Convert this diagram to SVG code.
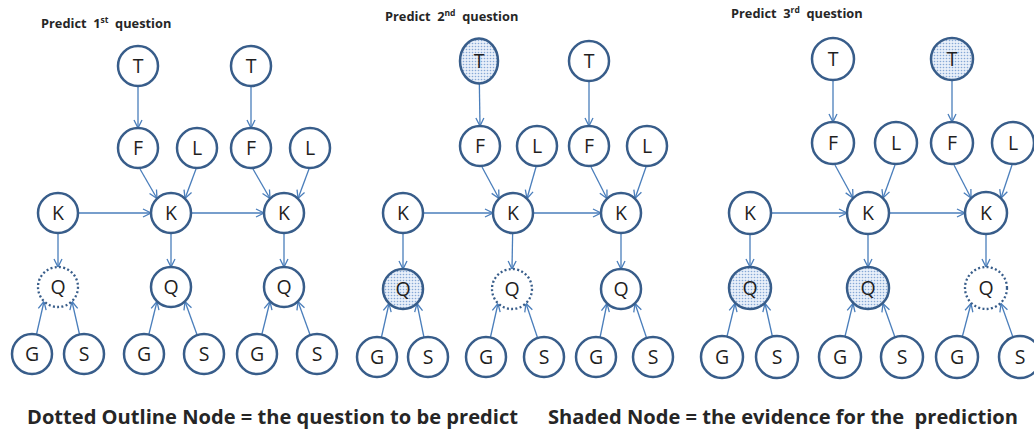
<svg xmlns="http://www.w3.org/2000/svg" width="1034" height="431" viewBox="0 0 1034 431">
<style>
.n{fill:#fff;stroke:#385D8A;stroke-width:2.5}
.sh{fill:url(#dots);stroke:#385D8A;stroke-width:2.5}
.dt{fill:#fff;stroke:#385D8A;stroke-width:2.3;stroke-dasharray:2 2.3}
.lb{font-family:"Open Sans","Liberation Sans",sans-serif;font-size:19.5px;fill:#1f1f1f;text-anchor:middle}
.cn path{stroke:#4A7EBB;stroke-width:1.3;fill:none;marker-end:url(#arr)}
.ti{font-family:"Open Sans","Liberation Sans",sans-serif;font-weight:bold;font-size:12.8px;fill:#262626;white-space:pre}
.ft{font-family:"Open Sans","Liberation Sans",sans-serif;font-weight:bold;font-size:19px;fill:#262626;white-space:pre}
</style>
<defs>
<pattern id="dots" width="3" height="3" patternUnits="userSpaceOnUse">
<rect width="3" height="3" fill="#E8EFF9"/>
<circle cx="1.5" cy="1.5" r="0.8" fill="#86A8D6"/>
</pattern>
<marker id="arr" markerUnits="userSpaceOnUse" markerWidth="12" markerHeight="12" viewBox="-10 -6 12 12" refX="0" refY="0" orient="auto">
<path d="M-8,-4 L0,0 L-8,4" fill="none" stroke="#4A7EBB" stroke-width="1.3"/>
</marker>
</defs>
<rect width="1034" height="431" fill="#fff"/>

<g id="titles" xml:space="preserve">
<text class="ti" x="41" y="27.5" xml:space="preserve">Predict  1<tspan dy="-4.5" font-size="8.5">st</tspan><tspan dy="4.5">  question</tspan></text>
<text class="ti" x="385" y="20.5" xml:space="preserve">Predict  2<tspan dy="-4.5" font-size="8.5">nd</tspan><tspan dy="4.5">  question</tspan></text>
<text class="ti" x="731" y="17.5" xml:space="preserve">Predict  3<tspan dy="-4.5" font-size="8.5">rd</tspan><tspan dy="4.5">  question</tspan></text>
</g>

<g id="connectors" class="cn">
<path d="M138,66 L138,128"/><path d="M251,66 L251,128"/>
<path d="M140,169 L157,198.5"/><path d="M253,169 L270,198.5"/>
<path d="M196,169 L185,198.5"/><path d="M309,169 L298,198.5"/>
<path d="M58,213 L151,213"/><path d="M171,213 L264,213"/>
<path d="M58,213 L58,267"/><path d="M171,213 L171,267"/><path d="M284,213 L284,267"/>
<path d="M32,354 L44,301.5"/><path d="M144,354 L157,301.5"/><path d="M257,354 L270,301.5"/>
<path d="M84,354 L72,301.5"/><path d="M204,354 L185,301.5"/><path d="M317,354 L298,301.5"/>

<path d="M479,61 L480,126"/><path d="M589,61 L589,126"/>
<path d="M482,167 L499,198.5"/><path d="M591,167 L607,198.5"/>
<path d="M536,167 L527,198.5"/><path d="M646,167 L635,198.5"/>
<path d="M403,213 L493,213"/><path d="M513,213 L601,213"/>
<path d="M403,213 L403,269"/><path d="M513,213 L512,269"/><path d="M621,213 L621,269"/>
<path d="M377,357 L389,303.5"/><path d="M486,357 L498,303.5"/><path d="M596,357 L607,303.5"/>
<path d="M428,357 L417,303.5"/><path d="M544,357 L526,303.5"/><path d="M653,357 L635,303.5"/>

<path d="M833,59 L833,122"/><path d="M952,59 L952,122"/>
<path d="M835,165 L853,198"/><path d="M954,165 L971,198"/>
<path d="M895,165 L883,198"/><path d="M1012,165 L1001,198"/>
<path d="M750,213 L847,213"/><path d="M868,213 L965,213"/>
<path d="M750,213 L750,267"/><path d="M868,213 L868,267"/><path d="M986,213 L986,267"/>
<path d="M722,357 L735,303.5"/><path d="M840,357 L853,303.5"/><path d="M957,357 L971,303.5"/>
<path d="M777,357 L765,303.5"/><path d="M902,357 L883,303.5"/><path d="M1020,357 L1001,303.5"/>
</g>

<!-- Panel 1 -->
<g id="p1-T1"><circle class="n" cx="138" cy="66" r="20"/><text class="lb" x="138" y="73">T</text></g>
<g id="p1-T2"><circle class="n" cx="251" cy="66" r="20"/><text class="lb" x="251" y="73">T</text></g>
<g id="p1-F1"><circle class="n" cx="138" cy="148" r="20"/><text class="lb" x="138" y="155">F</text></g>
<g id="p1-L1"><circle class="n" cx="197" cy="148" r="20"/><text class="lb" x="197" y="155">L</text></g>
<g id="p1-F2"><circle class="n" cx="251" cy="148" r="20"/><text class="lb" x="251" y="155">F</text></g>
<g id="p1-L2"><circle class="n" cx="310" cy="148" r="20"/><text class="lb" x="310" y="155">L</text></g>
<g id="p1-K0"><circle class="n" cx="58" cy="213" r="20"/><text class="lb" x="58" y="220">K</text></g>
<g id="p1-K1"><circle class="n" cx="171" cy="213" r="20"/><text class="lb" x="171" y="220">K</text></g>
<g id="p1-K2"><circle class="n" cx="284" cy="213" r="20"/><text class="lb" x="284" y="220">K</text></g>
<g id="p1-Q0"><circle class="dt" cx="58" cy="287" r="20"/><text class="lb" x="58" y="294">Q</text></g>
<g id="p1-Q1"><circle class="n" cx="171" cy="287" r="20"/><text class="lb" x="171" y="294">Q</text></g>
<g id="p1-Q2"><circle class="n" cx="284" cy="287" r="20"/><text class="lb" x="284" y="294">Q</text></g>
<g id="p1-G0"><circle class="n" cx="32" cy="354" r="20"/><text class="lb" x="32" y="361">G</text></g>
<g id="p1-S0"><circle class="n" cx="84" cy="354" r="20"/><text class="lb" x="84" y="361">S</text></g>
<g id="p1-G1"><circle class="n" cx="144" cy="354" r="20"/><text class="lb" x="144" y="361">G</text></g>
<g id="p1-S1"><circle class="n" cx="204" cy="354" r="20"/><text class="lb" x="204" y="361">S</text></g>
<g id="p1-G2"><circle class="n" cx="257" cy="354" r="20"/><text class="lb" x="257" y="361">G</text></g>
<g id="p1-S2"><circle class="n" cx="317" cy="354" r="20"/><text class="lb" x="317" y="361">S</text></g>

<!-- Panel 2 -->
<g id="p2-T1"><ellipse class="sh" cx="479" cy="61" rx="19" ry="22.5"/><text class="lb" x="479" y="68">T</text></g>
<g id="p2-T2"><circle class="n" cx="589" cy="61" r="20"/><text class="lb" x="589" y="68">T</text></g>
<g id="p2-F1"><circle class="n" cx="480" cy="146" r="20"/><text class="lb" x="480" y="153">F</text></g>
<g id="p2-L1"><circle class="n" cx="537" cy="146" r="20"/><text class="lb" x="537" y="153">L</text></g>
<g id="p2-F2"><circle class="n" cx="589" cy="146" r="20"/><text class="lb" x="589" y="153">F</text></g>
<g id="p2-L2"><circle class="n" cx="647" cy="146" r="20"/><text class="lb" x="647" y="153">L</text></g>
<g id="p2-K0"><circle class="n" cx="403" cy="213" r="20"/><text class="lb" x="403" y="220">K</text></g>
<g id="p2-K1"><circle class="n" cx="513" cy="213" r="20"/><text class="lb" x="513" y="220">K</text></g>
<g id="p2-K2"><circle class="n" cx="621" cy="213" r="20"/><text class="lb" x="621" y="220">K</text></g>
<g id="p2-Q0"><circle class="sh" cx="403" cy="289" r="20"/><text class="lb" x="403" y="296">Q</text></g>
<g id="p2-Q1"><circle class="dt" cx="512" cy="289" r="20"/><text class="lb" x="512" y="296">Q</text></g>
<g id="p2-Q2"><circle class="n" cx="621" cy="289" r="20"/><text class="lb" x="621" y="296">Q</text></g>
<g id="p2-G0"><circle class="n" cx="377" cy="357" r="20"/><text class="lb" x="377" y="364">G</text></g>
<g id="p2-S0"><circle class="n" cx="428" cy="357" r="20"/><text class="lb" x="428" y="364">S</text></g>
<g id="p2-G1"><circle class="n" cx="486" cy="357" r="20"/><text class="lb" x="486" y="364">G</text></g>
<g id="p2-S1"><circle class="n" cx="544" cy="357" r="20"/><text class="lb" x="544" y="364">S</text></g>
<g id="p2-G2"><circle class="n" cx="596" cy="357" r="20"/><text class="lb" x="596" y="364">G</text></g>
<g id="p2-S2"><circle class="n" cx="653" cy="357" r="20"/><text class="lb" x="653" y="364">S</text></g>

<!-- Panel 3 -->
<g id="p3-T1"><circle class="n" cx="833" cy="59" r="21"/><text class="lb" x="833" y="66">T</text></g>
<g id="p3-T2"><circle class="sh" cx="952" cy="59" r="21"/><text class="lb" x="952" y="66">T</text></g>
<g id="p3-F1"><circle class="n" cx="833" cy="143" r="21"/><text class="lb" x="833" y="150">F</text></g>
<g id="p3-L1"><circle class="n" cx="896" cy="143" r="21"/><text class="lb" x="896" y="150">L</text></g>
<g id="p3-F2"><circle class="n" cx="952" cy="143" r="21"/><text class="lb" x="952" y="150">F</text></g>
<g id="p3-L2"><circle class="n" cx="1013" cy="143" r="21"/><text class="lb" x="1013" y="150">L</text></g>
<g id="p3-K0"><circle class="n" cx="750" cy="213" r="21"/><text class="lb" x="750" y="220">K</text></g>
<g id="p3-K1"><circle class="n" cx="868" cy="213" r="21"/><text class="lb" x="868" y="220">K</text></g>
<g id="p3-K2"><circle class="n" cx="986" cy="213" r="21"/><text class="lb" x="986" y="220">K</text></g>
<g id="p3-Q0"><circle class="sh" cx="750" cy="288" r="21"/><text class="lb" x="750" y="295">Q</text></g>
<g id="p3-Q1"><circle class="sh" cx="868" cy="288" r="21"/><text class="lb" x="868" y="295">Q</text></g>
<g id="p3-Q2"><circle class="dt" cx="986" cy="288" r="21"/><text class="lb" x="986" y="295">Q</text></g>
<g id="p3-G0"><circle class="n" cx="722" cy="357" r="21"/><text class="lb" x="722" y="364">G</text></g>
<g id="p3-S0"><circle class="n" cx="777" cy="357" r="21"/><text class="lb" x="777" y="364">S</text></g>
<g id="p3-G1"><circle class="n" cx="840" cy="357" r="21"/><text class="lb" x="840" y="364">G</text></g>
<g id="p3-S1"><circle class="n" cx="902" cy="357" r="21"/><text class="lb" x="902" y="364">S</text></g>
<g id="p3-G2"><circle class="n" cx="957" cy="357" r="21"/><text class="lb" x="957" y="364">G</text></g>
<g id="p3-S2"><circle class="n" cx="1020" cy="357" r="21"/><text class="lb" x="1020" y="364">S</text></g>

<g id="legend">
<text class="ft" x="27" y="424" textLength="491" lengthAdjust="spacingAndGlyphs" xml:space="preserve">Dotted Outline Node = the question to be predict</text>
<text class="ft" x="548" y="424" textLength="470" lengthAdjust="spacingAndGlyphs" xml:space="preserve">Shaded Node = the evidence for the  prediction</text>
</g>
</svg>
